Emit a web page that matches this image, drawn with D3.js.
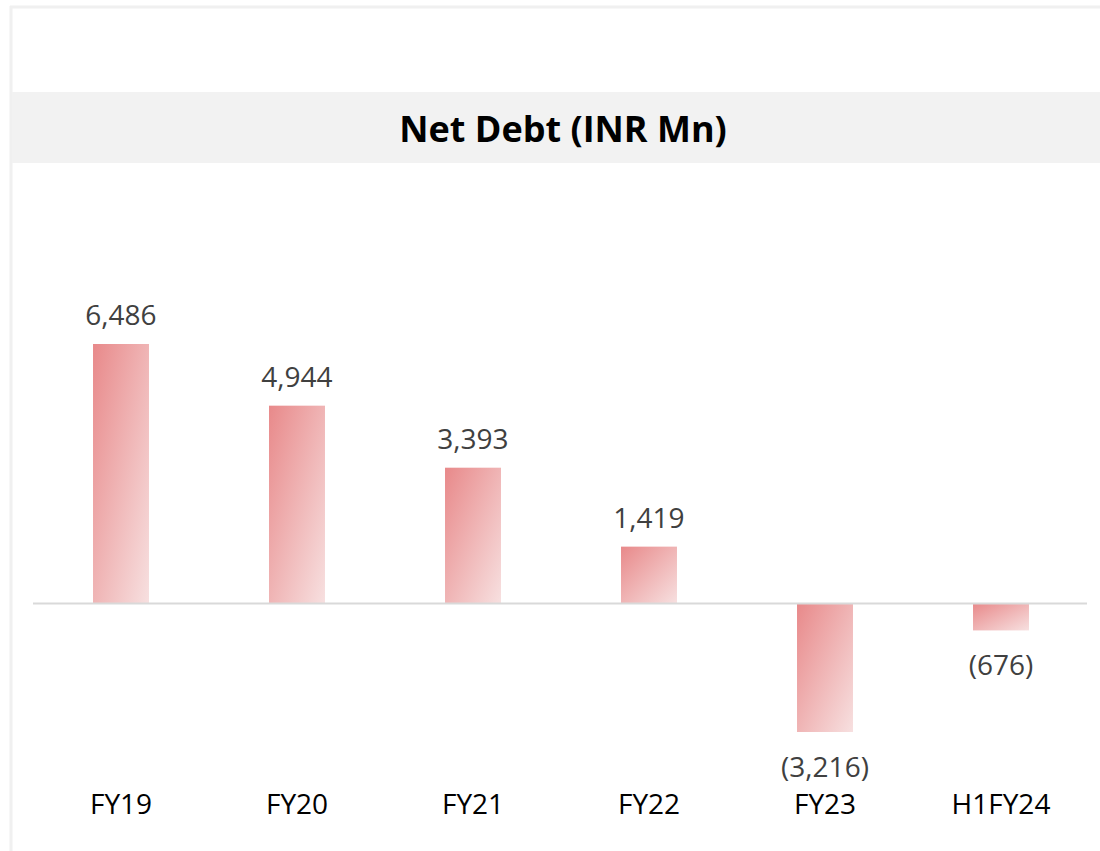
<!DOCTYPE html>
<html>
    <head>
        <meta charset="utf-8">
        <title>Net Debt</title>
        <style>
            html, body {
                margin: 0px;
                padding: 0px;
                background-color: #ffffff;
                font-family: "Open Sans", sans-serif;
            }
            svg {
                display: block;
            }
        </style>
        <script src="https://cdn.jsdelivr.net/npm/d3@7"></script>
    </head>
    <body>
        <div id="main"></div>

        <script>
            var categories = ["FY19", "FY20", "FY21", "FY22", "FY23", "H1FY24"];
            var values = [6486, 4944, 3393, 1419, -3216, -676];
            var chartTitle = "Net Debt (INR Mn)";

            var width = 1100;
            var height = 851;

            function formatValue(v) {
                var s = d3.format(",")(Math.abs(v));
                return v < 0 ? "(" + s + ")" : s;
            }

            function main() {
                var svg = d3.select("#main")
                    .append("svg")
                    .attr("width", width)
                    .attr("height", height);

                var grad = svg.append("defs")
                    .append("linearGradient")
                    .attr("id", "barFill")
                    .attr("x1", "0").attr("y1", "0")
                    .attr("x2", "1").attr("y2", "1");
                grad.append("stop").attr("offset", "0%").attr("stop-color", "#e8898a");
                grad.append("stop").attr("offset", "100%").attr("stop-color", "#f7e0e0");

                // frame lines
                svg.append("line")
                    .attr("x1", 10).attr("x2", width)
                    .attr("y1", 7).attr("y2", 7)
                    .attr("stroke", "#f0f0f0").attr("stroke-width", 3);
                svg.append("line")
                    .attr("x1", 11).attr("x2", 11)
                    .attr("y1", 6).attr("y2", height)
                    .attr("stroke", "#f0f0f0").attr("stroke-width", 3);

                // title band
                svg.append("rect")
                    .attr("x", 12).attr("y", 92)
                    .attr("width", width - 12).attr("height", 71)
                    .attr("fill", "#f2f2f2");
                svg.append("text")
                    .attr("x", 563).attr("y", 142)
                    .attr("text-anchor", "middle")
                    .attr("font-family", "'Open Sans', sans-serif")
                    .attr("font-weight", "bold")
                    .attr("font-size", 36)
                    .attr("fill", "#000")
                    .text(chartTitle);

                var x = d3.scaleBand()
                    .domain(categories)
                    .range([33, 1089])
                    .paddingInner(0.682)
                    .paddingOuter(0.341);

                var y = d3.scaleLinear()
                    .domain([-3216, 6486])
                    .range([732, 344]);

                svg.selectAll("rect.bar")
                    .data(values)
                    .enter()
                    .append("rect")
                    .attr("class", "bar")
                    .attr("x", function(d, i) { return x(categories[i]); })
                    .attr("y", function(d) { return y(Math.max(0, d)); })
                    .attr("width", x.bandwidth())
                    .attr("height", function(d) { return Math.abs(y(d) - y(0)); })
                    .attr("fill", "url(#barFill)");

                // zero line
                svg.append("line")
                    .attr("x1", 33).attr("x2", 1087)
                    .attr("y1", y(0)).attr("y2", y(0))
                    .attr("stroke", "#d9d9d9").attr("stroke-width", 2);

                svg.selectAll("text.value")
                    .data(values)
                    .enter()
                    .append("text")
                    .attr("class", "value")
                    .attr("x", function(d, i) { return x(categories[i]) + x.bandwidth() / 2; })
                    .attr("y", function(d) { return d >= 0 ? y(d) - 19 : y(d) + 45; })
                    .attr("text-anchor", "middle")
                    .attr("font-family", "'Open Sans', sans-serif")
                    .attr("font-size", 28)
                    .attr("fill", "#404040")
                    .text(formatValue);

                var xAxis = svg.append("g")
                    .attr("transform", "translate(0,814)")
                    .call(d3.axisBottom(x).tickSize(0).tickPadding(0));
                xAxis.select(".domain").remove();
                xAxis.selectAll("text")
                    .attr("dy", 0)
                    .attr("font-family", "'Open Sans', sans-serif")
                    .attr("font-size", 28)
                    .attr("fill", "#000");
            }

            main();
        </script>
    </body>
</html>
